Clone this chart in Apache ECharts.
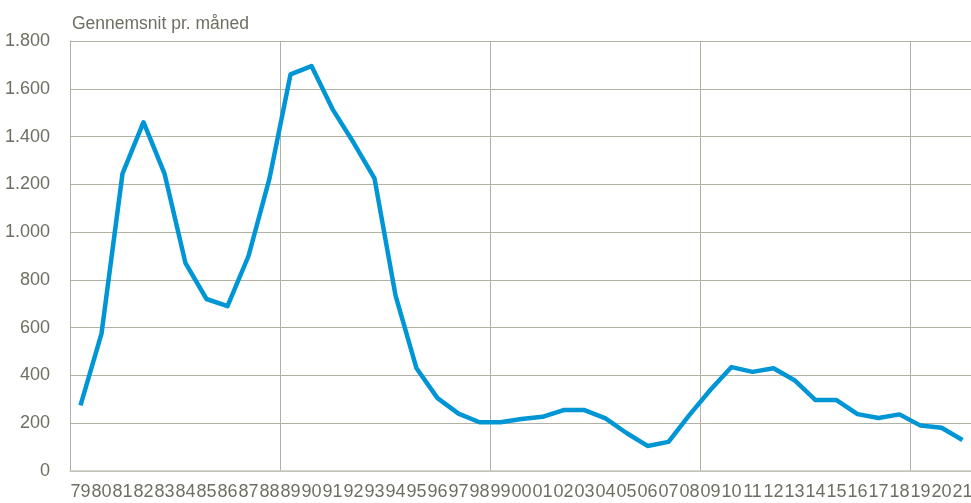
<!DOCTYPE html>
<html>
<head>
<meta charset="utf-8">
<script src="https://cdn.jsdelivr.net/npm/echarts@6/dist/echarts.min.js"></script>
<style>html,body{margin:0;padding:0;background:#fff}#c{width:971px;height:503px}</style>
</head>
<body>
<div id="c"></div>
<script>
const years = ['79','80','81','82','83','84','85','86','87','88','89','90','91','92','93','94','95','96','97','98','99','00','01','02','03','04','05','06','07','08','09','10','11','12','13','14','15','16','17','18','19','20','21'];
const values = [275,575,1245,1460,1245,870,720,690,900,1225,1660,1695,1515,1375,1225,735,430,305,240,204,204,218,227,255,255,220,159,105,122,235,340,435,415,430,380,297,297,238,222,237,190,181,130];
const yTicks = [0,200,400,600,800,1000,1200,1400,1600,1800];
const titleText = 'Gennemsnit pr. måned';

const gridColor = '#b3b1a3';
const textColor = '#6f6e62';
const chart = echarts.init(document.getElementById('c'));
chart.setOption({
  animation: false,
  backgroundColor: '#fff',
  title: {
    text: titleText, left: 72, top: 15, padding: 0,
    textStyle: {fontFamily: 'Liberation Sans, Arial', fontSize: 17.5, fontWeight: 'normal', color: textColor}
  },
  grid: {left: 70, right: -2, top: 41, bottom: 32, containLabel: false, outerBoundsMode: 'none'},
  xAxis: {
    type: 'category', data: years, boundaryGap: true,
    axisLine: {show: true, lineStyle: {color: '#c9c8bd', width: 1.5}},
    axisTick: {show: false},
    axisLabel: {interval: 0, margin: 12, fontFamily: 'Liberation Sans, Arial', fontSize: 18, color: textColor},
    splitLine: {show: true, interval: (idx) => idx % 10 === 0 && idx < years.length - 1, lineStyle: {color: gridColor, width: 1}}
  },
  yAxis: {
    type: 'value', min: yTicks[0], max: yTicks[yTicks.length-1], interval: 200,
    axisLine: {show: true, lineStyle: {color: gridColor, width: 1}},
    axisTick: {show: false},
    axisLabel: {margin: 20, fontFamily: 'Liberation Sans, Arial', fontSize: 18, color: textColor,
      formatter: v => String(v).replace(/\B(?=(\d{3})+(?!\d))/g, '.')},
    splitLine: {show: true, lineStyle: {color: gridColor, width: 1}}
  },
  series: [{
    type: 'line', data: values, symbol: 'none',
    lineStyle: {color: '#0096d6', width: 4.5, join: 'round'}
  }]
});
</script>
</body>
</html>
